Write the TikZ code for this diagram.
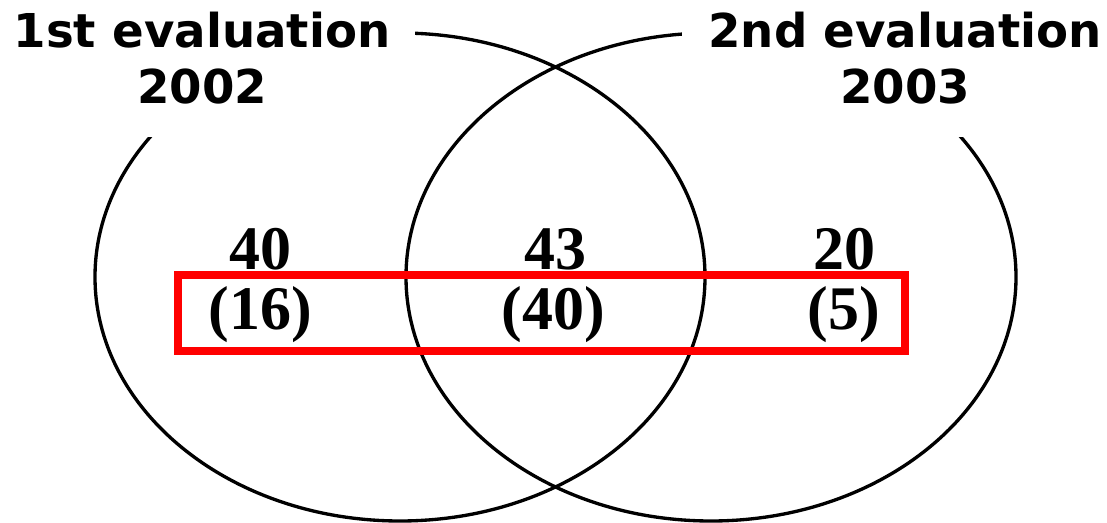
\documentclass[tikz,border=0pt]{standalone}
\usepackage{fontspec}
\setmainfont{Liberation Serif}
\newfontfamily\labfont{DejaVu Sans}
\usetikzlibrary{shapes.geometric}
\tikzset{
  venn/.style={draw=black, line width=2.5pt, ellipse, inner sep=0pt,
    minimum width=457.5pt, minimum height=366pt},
  evallabel/.style={font=\labfont\bfseries\fontsize{35pt}{42pt}\selectfont,
    align=center, anchor=base, inner sep=0pt},
  num/.style={font=\bfseries\fontsize{46.5pt}{50pt}\selectfont, anchor=base, inner sep=0pt},
  redbox/.style={draw=red, line width=6pt, inner sep=0pt}
}
\begin{document}
\begin{tikzpicture}[x=0.75pt,y=-0.75pt]
\useasboundingbox (0,0) rectangle (1107,523);
\node[venn] (ellL) at (400,277) {};
\node[venn] (ellR) at (711,277) {};
% white masks behind the titles
\fill[white] (0,0) rectangle (415,137);
\fill[white] (682,0) rectangle (1107,137);
\node[evallabel] (lab1) at (202,104) {1st evaluation\\2002};
\node[evallabel] (lab2) at (905,104) {2nd evaluation\\2003};
\node[num] (n40) at (260,270) {40};
\node[num] (n43) at (555,270) {43};
\node[num] (n20) at (844,270) {20};
\node[num] (p16) at (260,330) {(16)};
\node[num] (p40) at (553,330) {(40)};
\node[num] (p5) at (844,330) {(5)};
\node[redbox, minimum width=545.25pt, minimum height=57pt] (box) at (541,313) {};
\end{tikzpicture}
\end{document}
